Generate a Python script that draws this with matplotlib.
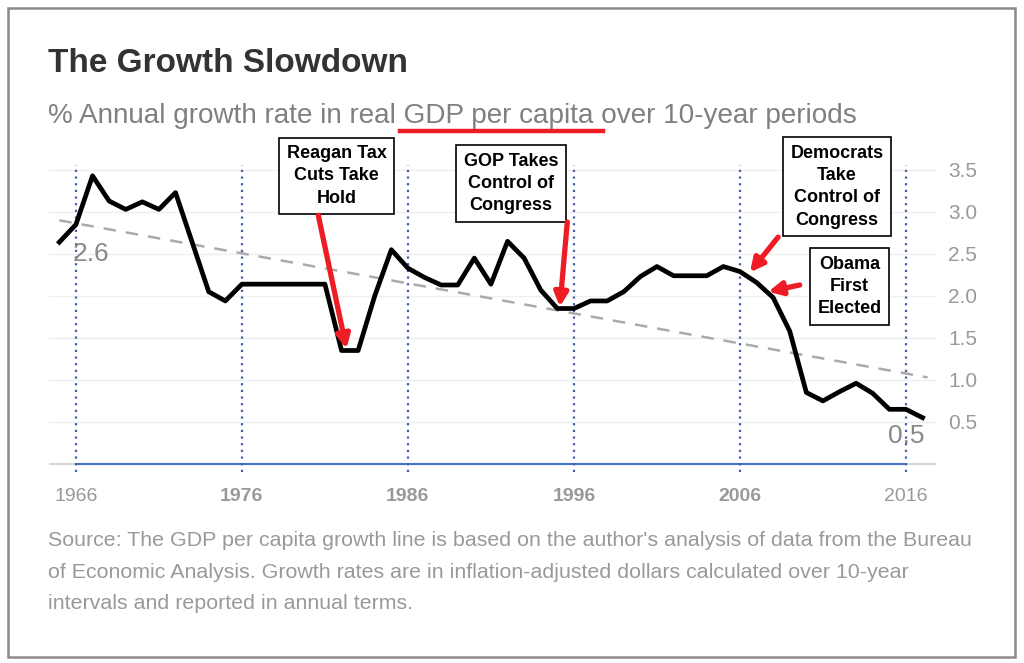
import matplotlib
matplotlib.use("Agg")
import matplotlib.pyplot as plt
from matplotlib.patches import Rectangle
from matplotlib.lines import Line2D

plt.rcParams['font.family'] = ['Liberation Sans', 'DejaVu Sans']

# data
years = [1965, 1966, 1967, 1968, 1969, 1970, 1971, 1972, 1974, 1975, 1976, 1981,
         1982, 1983, 1984, 1985, 1986, 1987, 1988, 1989, 1990, 1991, 1992, 1993,
         1994, 1995, 1996, 1997, 1998, 1999, 2000, 2001, 2002, 2003, 2004, 2005,
         2006, 2007, 2008, 2009, 2010, 2011, 2012, 2013, 2014, 2015, 2016, 2017]
growth = [2.64, 2.85, 3.43, 3.13, 3.03, 3.12, 3.03, 3.23, 2.05, 1.94, 2.14, 2.14,
          1.35, 1.35, 2.00, 2.55, 2.33, 2.22, 2.13, 2.13, 2.45, 2.14, 2.65, 2.45,
          2.07, 1.85, 1.85, 1.94, 1.94, 2.05, 2.23, 2.35, 2.24, 2.24, 2.24, 2.35,
          2.29, 2.16, 1.98, 1.58, 0.85, 0.75, 0.86, 0.96, 0.84, 0.65, 0.65, 0.55]
trend_years = [1965, 2017.3]
trend_vals = [2.90, 1.03]
decades = [1966, 1976, 1986, 1996, 2006, 2016]
ytick_vals = [0.5, 1.0, 1.5, 2.0, 2.5, 3.0, 3.5]

# (text, box centre, arrow start, arrow tip)
notes = [
    ("Reagan Tax\nCuts Take\nHold", (1981.7, 3.43), (1980.6, 2.96), (1982.3, 1.37)),
    ("GOP Takes\nControl of\nCongress", (1992.2, 3.34), (1995.6, 2.88), (1995.15, 1.87)),
    ("Democrats\nTake\nControl of\nCongress", (2011.85, 3.30), (2008.3, 2.70), (2006.6, 2.28)),
    ("Obama\nFirst\nElected", (2012.6, 2.11), (2009.6, 2.13), (2007.7, 2.05)),
]

fig = plt.figure(figsize=(10.24, 6.63), dpi=100)
ax = fig.add_axes([0.0482, 0.2851, 0.8657, 0.4738])
ax.set_xlim(1964.4, 2017.8)
ax.set_ylim(-0.12, 3.62)

for s in ax.spines.values():
    s.set_visible(False)

# grid
for v in ytick_vals:
    ax.axhline(v, color='#efefef', lw=1, zorder=0)

# axis line
ax.plot([1964.4, 1966], [0, 0], color='#cccccc', lw=1.2, zorder=1)
ax.plot([2016, 2017.8], [0, 0], color='#cccccc', lw=1.2, zorder=1)
ax.plot([1966, 2016], [0, 0], color='#4472C4', lw=1.5, zorder=2)

# decade dotted lines
ax.vlines(decades, -0.1, 3.56, colors='#4060A8', linestyles=(0, (1, 2)), lw=1.6, zorder=2)

# trend and main line
ax.plot(trend_years, trend_vals, color='#aaaaaa', lw=1.8, ls=(0, (5, 4)), zorder=3)
ax.plot(years, growth, color='black', lw=3.4, solid_joinstyle='round', zorder=4)

ax.text(1966.9, 2.50, "2.6", fontsize=19, color='#888888', ha='center', va='center')
ax.text(2017.1, 0.33, "0.5", fontsize=19, color='#888888', ha='right', va='center')

# ticks
ax.set_xticks(decades)
ax.set_xticklabels([str(d) for d in decades])
ax.tick_params(axis='x', length=0, pad=10, labelsize=14, labelcolor='#999999')
for lab in ax.get_xticklabels()[1:-1]:
    lab.set_fontweight('bold')
ax.yaxis.tick_right()
ax.set_yticks(ytick_vals)
ax.set_yticklabels([f"{v:.1f}" for v in ytick_vals])
ax.tick_params(axis='y', length=0, pad=9, labelsize=15, labelcolor='#999999')

# annotations
for text, centre, start, tip in notes:
    ax.text(centre[0], centre[1], text, ha='center', va='center', fontsize=13,
            fontweight='bold', linespacing=1.4, zorder=6,
            bbox=dict(boxstyle='square,pad=0.42', fc='white', ec='black', lw=1.2))
    ax.annotate('', xy=tip, xytext=start, annotation_clip=False, zorder=7,
                arrowprops=dict(arrowstyle='-|>', color='#EE1C25', lw=3.8,
                                mutation_scale=20, shrinkA=0, shrinkB=0))

# titles
fig.text(48/1024, 1 - 64/663, "The Growth Slowdown", fontsize=24, fontweight='bold',
         color='#333333', va='center', ha='left')
fig.text(48/1024, 1 - 116/663, "% Annual growth rate in real GDP per capita over 10-year periods",
         fontsize=20.1, color='#808080', va='center', ha='left')
fig.add_artist(Line2D([400/1024, 603/1024], [1 - 131/663, 1 - 131/663],
                      color='#EE1C25', lw=3.2, transform=fig.transFigure))

source = ("Source: The GDP per capita growth line is based on the author's analysis of data from the Bureau\n"
          "of Economic Analysis. Growth rates are in inflation-adjusted dollars calculated over 10-year\n"
          "intervals and reported in annual terms.")
fig.text(48/1024, 1 - 572/663, source, fontsize=15.4, color='#999999', va='center', ha='left',
         linespacing=1.85)

fig.patches.append(Rectangle((8/1024, 1 - 657/663), 1007/1024, 649/663, transform=fig.transFigure,
                             fill=False, ec='#8a8a8a', lw=1.8))

fig.savefig("out.png", dpi=100)
